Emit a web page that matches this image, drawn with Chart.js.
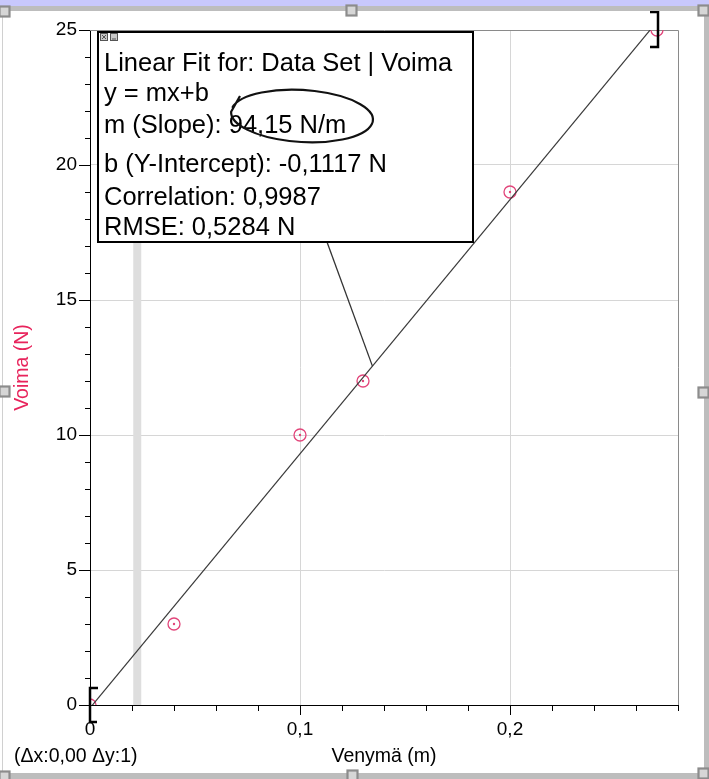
<!DOCTYPE html>
<html>
<head>
<meta charset="utf-8">
<script src="https://cdn.jsdelivr.net/npm/chart.js@4/dist/chart.umd.min.js"></script>
<style>
  html, body { margin: 0; padding: 0; background: #ffffff; }
  #wrap { width: 709px; height: 779px; position: relative; }
</style>
</head>
<body>
<div id="wrap"><canvas id="fit-chart" width="709" height="779"></canvas></div>
<script>
// measured data (Venymä in m, Voima in N)
const venyma = [0, 0.04, 0.1, 0.13, 0.2, 0.27];
const voima = [0, 3, 10, 12, 19, 25];

// linear fit result shown in the box
const fitSlope = 94.15;
const fitIntercept = -0.1117;
const fitRange = [0, 0.27];
const fitLines = [
  'Linear Fit for: Data Set | Voima',
  'y = mx+b',
  'm (Slope): 94,15 N/m',
  'b (Y-Intercept): -0,1117 N',
  'Correlation: 0,9987',
  'RMSE: 0,5284 N'
];
const fitAnchorX = 0.1345;   // where the box connector touches the line
const examineX = 0.0225;     // grey examine cursor

const xTickStep = 0.02, xMajor = 0.1;
const yTickStep = 1, yMajor = 5;
const FONT = '"Liberation Sans", Arial, sans-serif';

const fitData = fitRange.map(x => ({x: x, y: fitSlope * x + fitIntercept}));
const points = venyma.map((x, i) => ({x: x, y: voima[i]}));

function isMajor(v, step) {
  return Math.abs(v / step - Math.round(v / step)) < 1e-6;
}
function comma(v) {
  return String(Math.round(v * 1000) / 1000).replace('.', ',');
}

// window frame, cursor band, ticks, brackets, fit box
const decor = {
  id: 'decor',
  beforeDatasetsDraw(chart) {
    const ctx = chart.ctx, a = chart.chartArea, xs = chart.scales.x;
    ctx.save();
    // examine cursor
    ctx.fillStyle = '#dedede';
    ctx.fillRect(xs.getPixelForValue(examineX) - 4, a.top, 8, a.bottom - a.top);
    // plot frame top / right
    ctx.strokeStyle = '#8a8a8a';
    ctx.lineWidth = 1;
    ctx.beginPath();
    ctx.moveTo(a.left, a.top + 0.5);
    ctx.lineTo(a.right + 0.5, a.top + 0.5);
    ctx.lineTo(a.right + 0.5, a.bottom);
    ctx.stroke();
    ctx.restore();
  },
  afterDraw(chart) {
    const ctx = chart.ctx, a = chart.chartArea;
    const xs = chart.scales.x, ys = chart.scales.y;
    ctx.save();

    // ticks
    ctx.strokeStyle = '#000';
    ctx.lineWidth = 1;
    ctx.beginPath();
    for (let v = 0; v <= xs.max + 1e-9; v += xTickStep) {
      const px = Math.round(xs.getPixelForValue(v)) + 0.5;
      const len = isMajor(v, xMajor) ? 10 : 6;
      ctx.moveTo(px, a.bottom);
      ctx.lineTo(px, a.bottom + len);
    }
    for (let v = 0; v <= ys.max + 1e-9; v += yTickStep) {
      const py = Math.round(ys.getPixelForValue(v)) + 0.5;
      const len = isMajor(v, yMajor) ? 11 : 5;
      ctx.moveTo(a.left, py);
      ctx.lineTo(a.left - len, py);
    }
    ctx.stroke();

    // fit range brackets
    ctx.lineWidth = 2.5;
    const x0 = xs.getPixelForValue(fitRange[0]), y0 = ys.getPixelForValue(voima[0]);
    const x1 = xs.getPixelForValue(fitRange[1]), y1 = ys.getPixelForValue(voima[voima.length - 1]);
    ctx.beginPath();
    ctx.moveTo(x0 + 8, y0 - 17); ctx.lineTo(x0, y0 - 17); ctx.lineTo(x0, y0 + 17); ctx.lineTo(x0 + 7, y0 + 17);
    ctx.moveTo(x1 - 7, y1 - 18); ctx.lineTo(x1 + 1, y1 - 18); ctx.lineTo(x1 + 1, y1 + 17); ctx.lineTo(x1 - 7, y1 + 17);
    ctx.stroke();

    // connector from box to line
    const bx = 98, by = 32, bw = 375, bh = 210;
    ctx.strokeStyle = '#333';
    ctx.lineWidth = 1.3;
    ctx.beginPath();
    ctx.moveTo(327, by + bh);
    ctx.lineTo(xs.getPixelForValue(fitAnchorX), ys.getPixelForValue(fitSlope * fitAnchorX + fitIntercept));
    ctx.stroke();

    // fit box
    ctx.fillStyle = '#fff';
    ctx.fillRect(bx, by, bw, bh);
    ctx.strokeStyle = '#000';
    ctx.lineWidth = 2;
    ctx.strokeRect(bx, by, bw, bh);
    ctx.fillStyle = '#c8c8c8';
    ctx.fillRect(100, 33, 8, 8);
    ctx.fillRect(110, 33, 8, 8);
    ctx.strokeStyle = '#555';
    ctx.lineWidth = 1;
    ctx.strokeRect(100.5, 33.5, 7, 7);
    ctx.strokeRect(110.5, 33.5, 7, 7);
    ctx.beginPath();
    ctx.moveTo(102, 35); ctx.lineTo(106, 39); ctx.moveTo(106, 35); ctx.lineTo(102, 39);
    ctx.moveTo(112, 39); ctx.lineTo(116, 39);
    ctx.stroke();

    ctx.fillStyle = '#000';
    ctx.font = '25.5px ' + FONT;
    ctx.textAlign = 'left';
    ctx.textBaseline = 'alphabetic';
    const base = [71, 101, 133, 172, 205, 235];
    fitLines.forEach((t, i) => ctx.fillText(t, 104, base[i]));

    // hand drawn ring round the slope value
    ctx.strokeStyle = '#111';
    ctx.lineWidth = 2.2;
    ctx.beginPath();
    ctx.ellipse(302, 116, 71, 26, 0.06, Math.PI * 1.05, Math.PI * 3.0);
    ctx.lineTo(240, 96);
    ctx.stroke();

    // bottom left readout
    ctx.font = '19.5px ' + FONT;
    ctx.fillStyle = '#000';
    ctx.textBaseline = 'middle';
    ctx.fillText('(\u0394x:0,00 \u0394y:1)', 14, 757);

    // window chrome
    ctx.fillStyle = '#c8c8fc';
    ctx.fillRect(0, 0, 709, 6);
    ctx.fillStyle = '#bdbdbd';
    ctx.fillRect(0, 6, 709, 5);
    ctx.fillRect(0, 773, 709, 6);
    ctx.fillRect(704, 11, 5, 768);
    ctx.fillStyle = '#d0d0d0';
    ctx.fillRect(2, 11, 1, 762);
    const handles = [[-1, 6], [346, 5], [698, 5], [-1, 386], [698, 387], [-1, 771], [347, 770], [698, 768]];
    handles.forEach(h => {
      ctx.fillStyle = '#d6d6d6';
      ctx.fillRect(h[0], h[1], 11, 11);
      ctx.strokeStyle = '#8c8c8c';
      ctx.strokeRect(h[0] + 0.5, h[1] + 0.5, 10, 10);
    });
    ctx.restore();
  }
};

new Chart(document.getElementById('fit-chart'), {
  type: 'scatter',
  data: {
    datasets: [
      {
        label: 'Linear Fit',
        type: 'line',
        data: fitData,
        borderColor: '#3a3a3a',
        borderWidth: 1.2,
        pointRadius: 0,
        fill: false
      },
      {
        label: 'Voima',
        data: points,
        pointStyle: 'circle',
        pointRadius: 6,
        pointBorderWidth: 1.3,
        pointBorderColor: '#e2457a',
        pointBackgroundColor: 'rgba(0,0,0,0)'
      },
      {
        label: 'Voima centre',
        data: points,
        pointRadius: 1.2,
        pointBorderWidth: 0,
        pointBackgroundColor: '#e2457a'
      }
    ]
  },
  options: {
    responsive: false,
    animation: false,
    layout: { padding: { top: 30, right: 31, left: 0, bottom: 0 } },
    plugins: {
      legend: { display: false },
      tooltip: { enabled: false }
    },
    scales: {
      x: {
        type: 'linear',
        min: 0,
        max: 0.28,
        afterFit: s => { s.height = 74; },
        ticks: {
          stepSize: xTickStep,
          autoSkip: false,
          maxRotation: 0,
          padding: 13,
          color: '#000',
          font: { family: FONT, size: 19 },
          callback: v => isMajor(v, xMajor) ? comma(v) : ''
        },
        grid: {
          drawTicks: false,
          color: c => (c.tick && c.tick.value > 0 && isMajor(c.tick.value, xMajor)) ? '#d6d6d6' : 'rgba(0,0,0,0)'
        },
        border: { display: true, color: '#000', width: 1 },
        title: {
          display: true,
          text: 'Venymä (m)',
          color: '#000',
          font: { family: FONT, size: 19.5 },
          padding: { top: 0, bottom: 11 }
        }
      },
      y: {
        type: 'linear',
        min: 0,
        max: 25,
        afterFit: s => { s.width = 90; },
        ticks: {
          stepSize: yTickStep,
          autoSkip: false,
          padding: 13,
          color: '#000',
          font: { family: FONT, size: 19 },
          callback: v => isMajor(v, yMajor) ? comma(v) : ''
        },
        grid: {
          drawTicks: false,
          color: c => (c.tick && c.tick.value > 0 && c.tick.value < 25 && isMajor(c.tick.value, yMajor)) ? '#d6d6d6' : 'rgba(0,0,0,0)'
        },
        border: { display: true, color: '#000', width: 1 },
        title: {
          display: true,
          text: 'Voima (N)',
          color: '#e8245c',
          font: { family: FONT, size: 19.5 },
          padding: { top: 11, bottom: 0 }
        }
      }
    }
  },
  plugins: [decor]
});
</script>
</body>
</html>
